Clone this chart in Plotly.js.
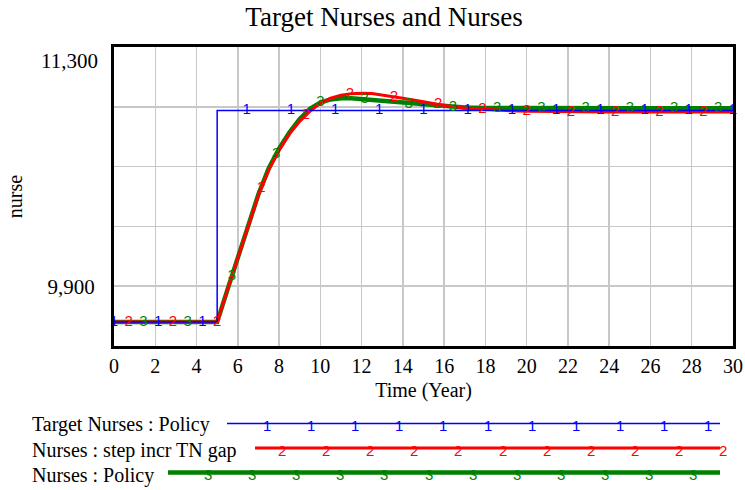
<!DOCTYPE html>
<html><head><meta charset="utf-8">
<script src="https://cdn.plot.ly/plotly-3.0.1.min.js"></script>
<style>html,body{margin:0;padding:0;background:#fff}#chart{width:745px;height:490px}</style>
</head><body><div id="chart"></div>
<script>
const chartTitle = "Target Nurses and Nurses";
const xTitle = "Time (Year)";
const yTitle = "nurse";
const seriesNames = ["Target Nurses : Policy", "Nurses : step incr TN gap", "Nurses : Policy"];
const seriesLabels = ["1", "2", "3"];
const xTickVals = [0,2,4,6,8,10,12,14,16,18,20,22,24,26,28,30];
const yGridVals = [9550, 9900, 10250, 10600, 10950, 11300];
const yTickText = ["", "9,900", "", "", "", ""];
const yTopLabel = "11,300";

const targetTime = [0, 5, 5, 30];
const targetNurses = [9690, 9690, 10928, 10928];
const time = [0,1,2,3,4,5,5.5,6,6.5,7,7.5,8,8.5,9,9.5,10,10.5,11,11.5,12,12.5,13,13.5,14,15,16,17,18,19,20,22,24,26,28,30];
const nursesStep = [9690,9690,9690,9690,9690,9690,9880,10065,10250,10432,10580,10695,10790,10865,10925,10970,11000,11018,11027,11030,11028,11020,11010,11000,10980,10958,10943,10934,10928,10924,10921,10920,10920,10920,10920];
const nursesPolicy = [9690,9690,9690,9690,9690,9690,9880,10068,10255,10438,10590,10705,10800,10878,10938,10975,10993,11000,11000,10995,10990,10984,10978,10970,10960,10951,10946,10943,10942,10941,10941,10941,10941,10941,10941];

const colors = ["#0000ff", "#ff0000", "#008000"];
const widths = [1.5, 3, 4.5];
const serif = "Liberation Serif, Times New Roman, serif";
const sans = "Liberation Sans, Arial, sans-serif";

// plot area in pixels
const L = 114, R = 733, T = 47, B = 346;
const px2x = p => (p - L) / (R - L);
const py2y = p => (B - p) / (B - T);

function interp(xs, ys, t) {
  for (let i = 0; i < xs.length - 1; i++) {
    if (t >= xs[i] && t <= xs[i+1]) {
      if (xs[i+1] === xs[i]) return ys[i+1];
      return ys[i] + (ys[i+1] - ys[i]) * (t - xs[i]) / (xs[i+1] - xs[i]);
    }
  }
  return ys[ys.length - 1];
}

const step = 30 / 14;
function markerTrace(xs, ys, offset, count, idx) {
  const mx = [], my = [], mt = [];
  for (let k = 0; k < count; k++) {
    const t = (k + offset) * step;
    mx.push(t); my.push(interp(xs, ys, t)); mt.push(seriesLabels[idx]);
  }
  return {x: mx, y: my, text: mt, mode: "text", type: "scatter", textposition: "middle center",
    textfont: {family: sans, size: 15, color: colors[idx]}, cliponaxis: false, hoverinfo: "skip", showlegend: false};
}

const traces = [
  {x: time, y: nursesPolicy, mode: "lines", line: {color: colors[2], width: widths[2]}, name: seriesNames[2], showlegend: false},
  {x: time, y: nursesStep, mode: "lines", line: {color: colors[1], width: widths[1]}, name: seriesNames[1], showlegend: false},
  {x: targetTime, y: targetNurses, mode: "lines", line: {color: colors[0], width: widths[0]}, name: seriesNames[0], showlegend: false},
  markerTrace(time, nursesPolicy, 2/3, 14, 2),
  markerTrace(time, nursesStep, 1/3, 14, 1),
  markerTrace(targetTime, targetNurses, 0, 15, 0)
];

const shapes = [];
const annotations = [];
// legend
const legendRows = [
  {y: 423.5, x0: 227, x1: 720, tx: 424.5, m0: 267, n: 11},
  {y: 448, x0: 255, x1: 720, tx: 450, m0: 282, n: 11},
  {y: 472.5, x0: 168, x1: 720, tx: 475, m0: 208, n: 12}
];
legendRows.forEach((r, i) => {
  shapes.push({type: "line", xref: "paper", yref: "paper", x0: px2x(r.x0), x1: px2x(r.x1), y0: py2y(r.y), y1: py2y(r.y),
    line: {color: colors[i], width: widths[i]}});
  annotations.push({xref: "paper", yref: "paper", x: px2x(30), y: py2y(r.tx), xanchor: "left", yanchor: "middle",
    text: seriesNames[i], showarrow: false, font: {family: serif, size: 20, color: "#000"}});
  for (let k = 0; k < r.n; k++) {
    annotations.push({xref: "paper", yref: "paper", x: px2x(r.m0 + k * 44.1), y: py2y(r.y + 2), xanchor: "center", yanchor: "middle",
      text: seriesLabels[i], showarrow: false, font: {family: sans, size: 15, color: colors[i]}});
  }
});
annotations.push({xref: "paper", yref: "y", x: 0, y: 11300, xanchor: "right", yanchor: "middle", xshift: -14, yshift: -14,
  text: yTopLabel, showarrow: false, font: {family: serif, size: 21, color: "#000"}});

const layout = {
  width: 745, height: 490,
  margin: {l: L, r: 745 - R, t: T, b: 490 - B, pad: 0},
  paper_bgcolor: "#fff", plot_bgcolor: "#fff",
  showlegend: false,
  title: {text: chartTitle, font: {family: serif, size: 27, color: "#000"}, x: 384 / 745, xanchor: "center", y: 1 - 17 / 490, yanchor: "middle"},
  xaxis: {
    range: [0, 30], tickvals: xTickVals, ticks: "",
    showgrid: true, gridcolor: "#c8c8c8", gridwidth: 1.5, zeroline: false,
    showline: true, mirror: true, linecolor: "#000", linewidth: 3,
    tickfont: {family: serif, size: 20, color: "#000"},
    title: {text: xTitle, font: {family: serif, size: 20, color: "#000"}, standoff: 7}
  },
  yaxis: {
    range: [9550, 11300], tickvals: yGridVals, ticktext: yTickText, ticks: "outside", ticklen: 12, tickcolor: "rgba(0,0,0,0)",
    showgrid: true, gridcolor: "#c8c8c8", gridwidth: 1.5, zeroline: false,
    showline: true, mirror: true, linecolor: "#000", linewidth: 3,
    tickfont: {family: serif, size: 21, color: "#000"},
    title: {text: yTitle, font: {family: serif, size: 20, color: "#000"}, standoff: 20}
  },
  shapes: shapes,
  annotations: annotations
};

Plotly.newPlot("chart", traces, layout, {displayModeBar: false, staticPlot: true});
</script>
</body></html>
